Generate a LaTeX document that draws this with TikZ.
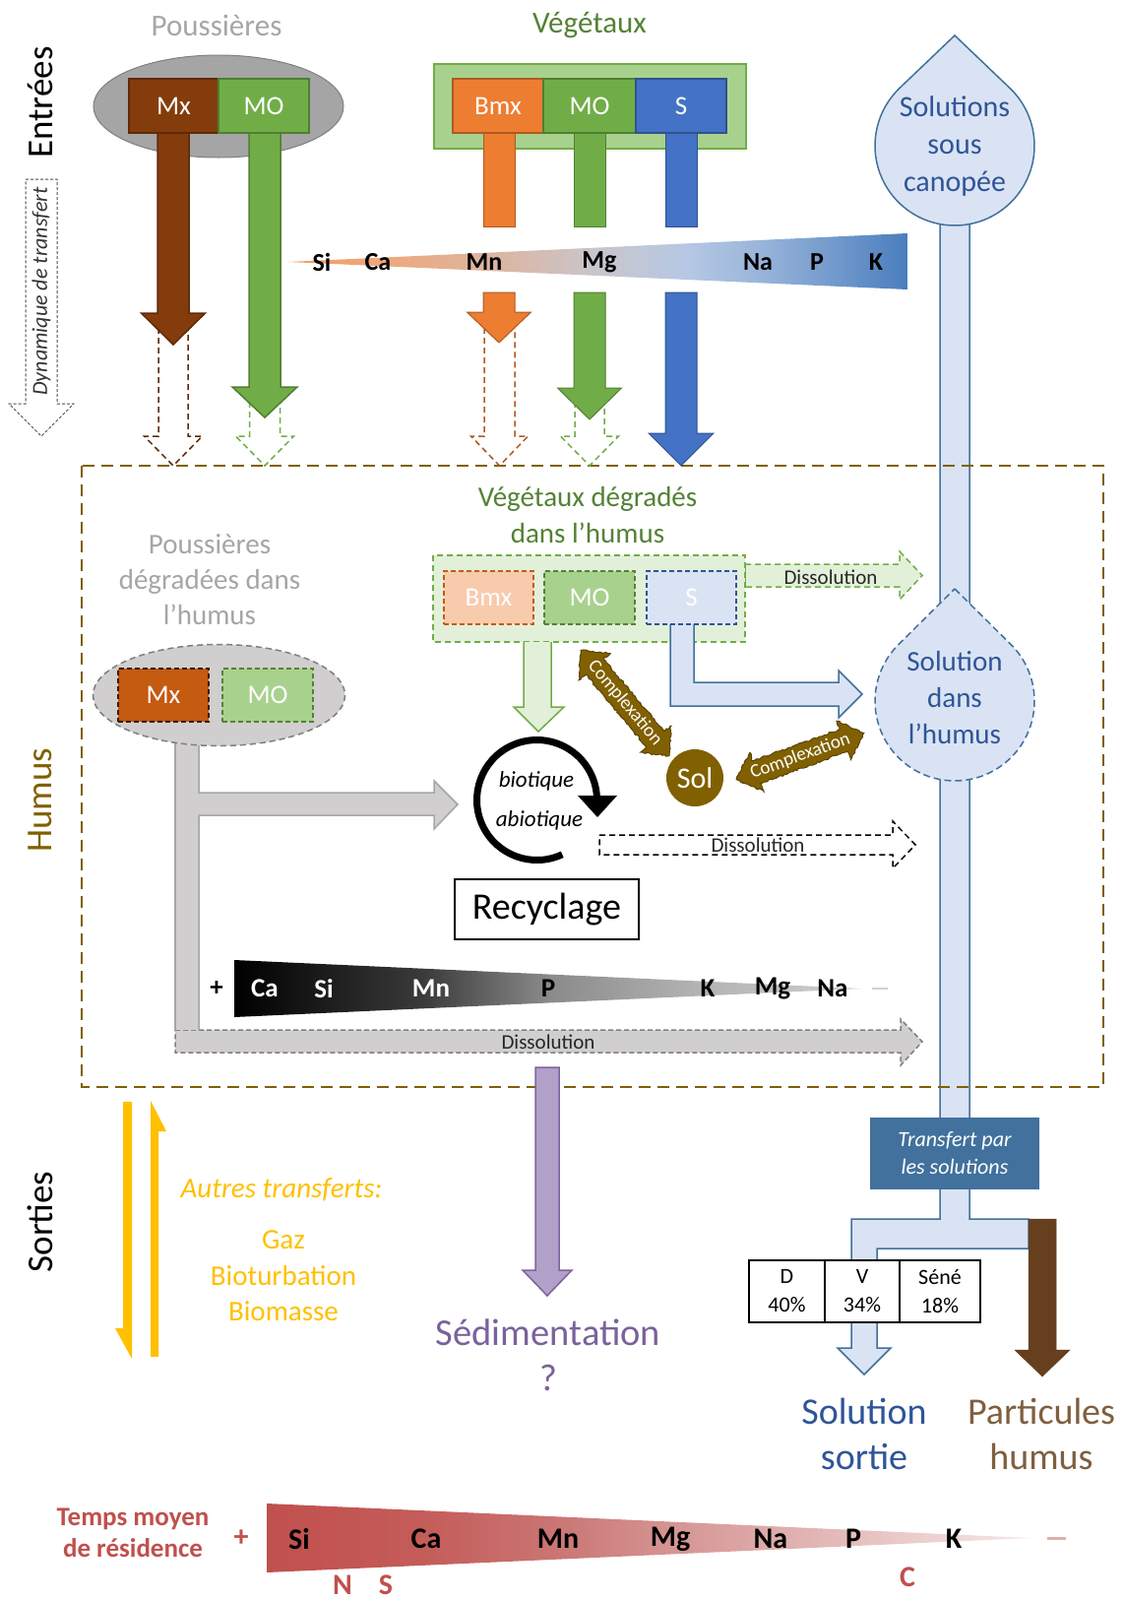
\documentclass[tikz,border=0pt]{standalone}
\usepackage{fontspec}
\setmainfont{Carlito}
\usetikzlibrary{calc,decorations.pathmorphing}
\definecolor{dustgray}{HTML}{A5A5A5}
\definecolor{dustedge}{HTML}{7F7F7F}
\definecolor{dusttext}{HTML}{A6A6A6}
\definecolor{mxbrown}{HTML}{843C0C}
\definecolor{mxedge}{HTML}{5E2A08}
\definecolor{mogreen}{HTML}{70AD47}
\definecolor{moedge}{HTML}{507E32}
\definecolor{vegtext}{HTML}{548235}
\definecolor{veglight}{HTML}{A9D18E}
\definecolor{bmxorange}{HTML}{ED7D31}
\definecolor{bmxedge}{HTML}{AE5A21}
\definecolor{sblue}{HTML}{4472C4}
\definecolor{sedge}{HTML}{2F528F}
\definecolor{dropfill}{HTML}{DAE3F3}
\definecolor{dropedge}{HTML}{41719C}
\definecolor{droptext}{HTML}{2F5597}
\definecolor{humusbrown}{HTML}{806000}
\definecolor{lgray}{HTML}{D0CECE}
\definecolor{grayedge}{HTML}{A6A6A6}
\definecolor{mxhumus}{HTML}{C55A11}
\definecolor{mxhedge}{HTML}{3A1A05}
\definecolor{vegpale}{HTML}{E2F0D9}
\definecolor{bmxpale}{HTML}{F8CBAD}
\definecolor{purplefill}{HTML}{B1A0C7}
\definecolor{purpleedge}{HTML}{7E649E}
\definecolor{purpletext}{HTML}{7A629A}
\definecolor{yellowarr}{HTML}{FFC000}
\definecolor{partbrown}{HTML}{663F1F}
\definecolor{parttext}{HTML}{7F5F3F}
\definecolor{redres}{HTML}{C0504D}
\definecolor{disstext}{HTML}{262626}
\definecolor{tgA}{HTML}{F19C5E}
\definecolor{tgB}{HTML}{F0A77A}
\definecolor{tgC}{HTML}{DDB49E}
\definecolor{tgD}{HTML}{C9C6CC}
\definecolor{tgE}{HTML}{B6C8E4}
\definecolor{tgF}{HTML}{9AB5DA}
\definecolor{tgG}{HTML}{4A7EBE}
\definecolor{bgA}{HTML}{000000}
\definecolor{bgB}{HTML}{3A3A3A}
\definecolor{bgC}{HTML}{8A8A8A}
\definecolor{bgD}{HTML}{B3B3B3}
\definecolor{bgE}{HTML}{CFCFCF}
\definecolor{rgA}{HTML}{C0504D}
\definecolor{rgB}{HTML}{C45C59}
\definecolor{rgC}{HTML}{CA7674}
\definecolor{rgD}{HTML}{D49391}
\definecolor{rgE}{HTML}{DFAFAE}
\definecolor{rgF}{HTML}{F7E8E8}
\pgfdeclarehorizontalshading{topgrad}{100bp}{color(0bp)=(tgA); color(25bp)=(tgA); color(32bp)=(tgB); color(41bp)=(tgC); color(50bp)=(tgD); color(57bp)=(tgE); color(63bp)=(tgF); color(75bp)=(tgG); color(100bp)=(tgG)}
\pgfdeclarehorizontalshading{blackgrad}{100bp}{color(0bp)=(bgA); color(25bp)=(bgA); color(40bp)=(bgB); color(50bp)=(bgC); color(62bp)=(bgD); color(75bp)=(bgE); color(100bp)=(bgE)}
\pgfdeclarehorizontalshading{redgrad}{100bp}{color(0bp)=(rgA); color(25bp)=(rgA); color(35bp)=(rgB); color(44bp)=(rgC); color(51bp)=(rgD); color(59bp)=(rgE); color(75bp)=(rgF); color(100bp)=(rgF)}
\newcommand\fsz[2]{\fontsize{#1pt}{#2pt}\selectfont}
\newcommand\fatdown[7]{\draw[#1] ({#2-#3},#5) -- ({#2-#3},#6) -- ({#2-#4},#6) -- (#2,#7) -- ({#2+#4},#6) -- ({#2+#3},#6) -- ({#2+#3},#5) -- cycle;}
\newcommand\opendown[7]{\draw[#1] ({#2-#3},#5) -- ({#2-#3},#6) -- ({#2-#4},#6) -- (#2,#7) -- ({#2+#4},#6) -- ({#2+#3},#6) -- ({#2+#3},#5);}
\begin{document}
\begin{tikzpicture}[x=1pt,y=-1pt,
  txt/.style={inner sep=0pt, align=center},
  boxlab/.style={inner sep=0pt, text=white, font=\fsz{27}{32}, minimum height=55pt},
  lab/.style={inner sep=0pt, font=\fsz{26}{30}\bfseries},
  blab/.style={inner sep=0pt, font=\fsz{27}{31}\bfseries},
  redlab/.style={inner sep=0pt, font=\fsz{30}{35}\bfseries},
  diss/.style={inner sep=0pt, text=disstext, font=\fsz{21}{25}},
  pipestyle/.style={fill=dropfill, draw=dropedge, line width=1.5pt},
  cplx/.style={fill=humusbrown, draw=humusbrown!70!black, line width=1pt, decorate, decoration={random steps, segment length=2.5pt, amplitude=1pt}},
  cplxtext/.style={inner sep=0pt, text=white, font=\fsz{19}{22}}]
\useasboundingbox (0,0) rectangle (1142,1625);
\fill[white] (0,0) rectangle (1142,1625);

% ---------- main solution pipe ----------
\draw[pipestyle] (955,225) -- (955,1238) -- (865,1238) -- (865,1369) -- (851,1369) -- (878,1396) -- (905,1369) -- (891,1369) -- (891,1268) -- (1045,1268) -- (1045,1238) -- (985,1238) -- (985,225) -- cycle;
% drop 1
\draw[pipestyle] (970,36) -- ($(970,148)+(-46.33:81)$) arc[start angle=-46.33, end angle=226.33, radius=81] -- cycle;
\node[txt, text=droptext, font=\fsz{30}{38}] (drop1) at (970,148) {Solutions\\sous\\canopée};
% drop 2
\draw[pipestyle, dashed, dash pattern=on 7pt off 4pt] (970,598) -- ($(970,712)+(-45.27:81)$) arc[start angle=-45.27, end angle=225.27, radius=81] -- cycle;
\node[txt, text=droptext, font=\fsz{29}{37}] (drop2) at (970,709) {Solution\\dans\\l’humus};

% ---------- humus frame ----------
\draw[humusbrown, line width=2pt, dash pattern=on 12pt off 7pt] (83,473) rectangle (1121,1104);

% ---------- side titles ----------
\node[txt, rotate=90, font=\fsz{37}{40}] (tEntrees) at (41,104) {Entrées};
\node[txt, rotate=90, font=\fsz{37}{40}, text=humusbrown] (tHumus) at (41,813) {Humus};
\node[txt, rotate=90, font=\fsz{37}{40}] (tSorties) at (41,1241) {Sorties};
\draw[black!70, line width=1pt, dash pattern=on 3pt off 2pt] (26,182) -- (58,182) -- (58,410) -- (75,410) -- (42,443) -- (9,410) -- (26,410) -- cycle;
\node[txt, rotate=90, font=\fsz{22}{25}\itshape, text=black!80] (tDyn) at (42,296) {Dynamique de transfert};

% ---------- entries: dust ----------
\node[txt, text=dusttext, font=\fsz{31}{37}] (tPous) at (220,26) {Poussières};
\draw[fill=dustgray, draw=dustedge, line width=1pt] (222,108) ellipse [x radius=127, y radius=52];
\opendown{mxedge, line width=1.5pt, dash pattern=on 6pt off 4pt}{176}{15}{29.5}{333}{443}{473}
\opendown{mogreen, line width=1.5pt, dash pattern=on 6pt off 4pt}{269}{15.5}{29.5}{408}{443}{473}
\fatdown{fill=mxbrown, draw=mxedge, line width=1.5pt}{176}{16}{32.5}{110}{318}{350}
\fatdown{fill=mogreen, draw=moedge, line width=1.5pt}{269}{16}{33}{110}{393}{424}
\node[boxlab, fill=mxbrown, draw=mxedge, line width=1.5pt, minimum width=91pt] (dMx) at (176.5,107.5) {Mx};
\node[boxlab, fill=mogreen, draw=moedge, line width=1.5pt, minimum width=92pt] (dMO) at (268,107.5) {MO};

% ---------- entries: vegetation ----------
\node[txt, text=vegtext, font=\fsz{31}{37}] (tVeg) at (599,26) {Végétaux};
\draw[fill=veglight, draw=mogreen, line width=1.5pt] (441,65) rectangle (758,151);
\draw[fill=bmxorange, draw=bmxedge, line width=1pt] (491,110) rectangle (523,230);
\draw[fill=mogreen, draw=moedge, line width=1pt] (583,110) rectangle (615,230);
\draw[fill=sblue, draw=sedge, line width=1pt] (676,110) rectangle (708,230);
\opendown{bmxedge, line width=1.5pt, dash pattern=on 6pt off 4pt}{507.5}{15.5}{29}{333}{443}{473}
\opendown{mogreen, line width=1.5pt, dash pattern=on 6pt off 4pt}{599}{15}{29.5}{408}{443}{473}
\fatdown{fill=bmxorange, draw=bmxedge, line width=1pt}{507}{16}{32.5}{297}{317}{348}
\fatdown{fill=mogreen, draw=moedge, line width=1pt}{599}{16}{32.5}{297}{394}{426}
\fatdown{fill=sblue, draw=sedge, line width=1pt}{692}{16}{33}{297}{440}{473}
\node[boxlab, fill=bmxorange, draw=bmxedge, line width=1.5pt, minimum width=92pt] (vBmx) at (506,107.5) {Bmx};
\node[boxlab, fill=mogreen, draw=moedge, line width=1.5pt, minimum width=94pt] (vMO) at (599,107.5) {MO};
\node[boxlab, fill=sblue, draw=sedge, line width=1.5pt, minimum width=92pt] (vS) at (692,107.5) {S};

% top gradient bar
\shade[shading=topgrad] (293,266) -- (922,237) -- (922,294) -- cycle;
\node[lab] (tSi) at (327,266) {Si};
\node[lab] (tCa) at (384,266) {Ca};
\node[lab] (tMn) at (492,266) {Mn};
\node[lab] (tMg) at (609,266) {Mg};
\node[lab] (tNa) at (770,266) {Na};
\node[lab] (tP) at (830,266) {P};
\node[lab] (tK) at (890,266) {K};

% ---------- humus: dust ----------
\node[txt, text=dusttext, font=\fsz{29}{36}] (hPous) at (213,589) {Poussières\\dégradées dans\\l’humus};
% gray dissolution arrow (bottom)
\draw[fill=lgray, draw=dustedge, line width=1.5pt, dash pattern=on 5pt off 3pt] (178,1046) -- (915,1046) -- (915,1035) -- (937,1058) -- (915,1082) -- (915,1069) -- (178,1069) -- cycle;
\node[diss] (dissB) at (557,1058) {Dissolution};
% gray L arrow
\fill[lgray] (178,740) -- (202,740) -- (202,805) -- (441,805) -- (441,793) -- (465,817) -- (441,842) -- (441,828) -- (202,828) -- (202,1046) -- (178,1046) -- cycle;
\draw[grayedge, line width=1.5pt] (202,740) -- (202,805) -- (441,805) -- (441,793) -- (465,817) -- (441,842) -- (441,828) -- (202,828) -- (202,1046);
\draw[grayedge, line width=1.5pt] (178,740) -- (178,1046);
\draw[fill=lgray, draw=dustedge, line width=1.5pt, dash pattern=on 6pt off 4pt] (222.5,706) ellipse [x radius=128, y radius=51.5];
\node[boxlab, fill=mxhumus, draw=mxhedge, line width=1.5pt, dash pattern=on 5pt off 3pt, minimum width=92pt, minimum height=54pt] (hMx) at (166,706) {Mx};
\node[boxlab, fill=veglight, draw=vegtext, line width=1.5pt, dash pattern=on 5pt off 3pt, minimum width=92pt, minimum height=54pt] (hMO) at (272,706) {MO};

% black gradient bar
\shade[shading=blackgrad] (238,975) -- (876,1004) -- (238,1033) -- cycle;
\draw[bgE, line width=2.5pt] (886,1004) -- (902,1004);
\node[blab] (bPlus) at (220,1004) {+};
\node[blab, text=white] (bCa) at (269,1004) {Ca};
\node[blab, text=white] (bSi) at (329,1004) {Si};
\node[blab, text=white] (bMn) at (438,1004) {Mn};
\node[blab] (bP) at (557,1004) {P};
\node[blab] (bK) at (719,1004) {K};
\node[blab] (bMg) at (785,1004) {Mg};
\node[blab] (bNa) at (846,1004) {Na};

% ---------- humus: vegetation ----------
\node[txt, text=vegtext, font=\fsz{29}{37}] (hVeg) at (597,523) {Végétaux dégradés\\dans l’humus};
\draw[fill=vegpale, draw=mogreen, line width=1.5pt, dash pattern=on 6pt off 4pt] (757,573) -- (914,573) -- (914,560) -- (937,584.5) -- (914,609) -- (914,596) -- (757,596) -- cycle;
\node[diss] (dissT) at (844,586) {Dissolution};
\draw[fill=vegpale, draw=mogreen, line width=1.5pt, dash pattern=on 6pt off 4pt] (440,564) rectangle (757,652);
% S arrow to solution
\fill[dropfill] (681,625) -- (681,717) -- (852,717) -- (852,729) -- (876,705) -- (852,681) -- (852,693) -- (705,693) -- (705,625) -- cycle;
\draw[dropedge, line width=1.5pt] (681,634) -- (681,717) -- (852,717) -- (852,729) -- (876,705) -- (852,681) -- (852,693) -- (705,693) -- (705,634);
% green arrow to cycle
\fill[vegpale] (532,652) -- (532,718) -- (522,718) -- (547,743) -- (573,718) -- (560,718) -- (560,652) -- cycle;
\draw[mogreen, line width=1.5pt] (532,652) -- (532,718) -- (522,718) -- (547,743) -- (573,718) -- (560,718) -- (560,652);
\node[boxlab, fill=bmxpale, draw=mxhumus, line width=1.5pt, dash pattern=on 5pt off 3pt, minimum width=91pt, minimum height=54pt] (hBmx) at (496.5,607) {Bmx};
\node[boxlab, fill=veglight, draw=vegtext, line width=1.5pt, dash pattern=on 5pt off 3pt, minimum width=92pt, minimum height=54pt] (hVMO) at (599,607) {MO};
\node[boxlab, fill=dropfill, draw=droptext, line width=1.5pt, dash pattern=on 5pt off 3pt, minimum width=91pt, minimum height=54pt] (hS) at (702.5,607) {S};

% cycle
\draw[line width=7pt] ($(545.5,812.5)+(65:61)$) arc[start angle=65, end angle=358, radius=61];
\fill (587,808) -- (627,808) -- (607,830) -- cycle;
\node[txt, font=\fsz{23}{27}\itshape] (bio) at (545,793) {biotique};
\node[txt, font=\fsz{23}{27}\itshape] (abio) at (548,833) {abiotique};
\node[draw=black, line width=1.5pt, fill=white, minimum width=187pt, minimum height=61pt, inner sep=0pt, font=\fsz{38}{44}] (recy) at (555.5,923.5) {Recyclage};

% white dissolution arrow
\draw[fill=white, draw=black, line width=1.5pt, dash pattern=on 6pt off 4pt] (609,848) -- (907,848) -- (907,834) -- (930,858) -- (907,882) -- (907,868) -- (609,868) -- cycle;
\node[diss] (dissM) at (770,858) {Dissolution};

% complexation arrows and soil
\begin{scope}[shift={(635,714)}, rotate=-50]
\path[cplx] (-70,0) -- (-48,-21) -- (-48,-12) -- (48,-12) -- (48,-21) -- (70,0) -- (48,21) -- (48,12) -- (-48,12) -- (-48,21) -- cycle;
\end{scope}
\node[cplxtext, rotate=-50] (cx1) at (635,714) {Complexation};
\begin{scope}[shift={(813,768)}, rotate=20]
\path[cplx] (-69,0) -- (-47,-21) -- (-47,-12) -- (47,-12) -- (47,-21) -- (69,0) -- (47,21) -- (47,12) -- (-47,12) -- (-47,21) -- cycle;
\end{scope}
\node[cplxtext, rotate=20] (cx2) at (813,768) {Complexation};
\node[circle, fill=humusbrown, minimum size=58pt, inner sep=0pt, text=white, font=\fsz{30}{36}] (sol) at (706,790) {Sol};

% ---------- outputs ----------
\fill[yellowarr] (125,1119) -- (134,1119) -- (134,1380) -- (117,1349) -- (125,1349) -- cycle;
\fill[yellowarr] (153,1378) -- (153,1118) -- (169,1149) -- (161,1149) -- (161,1378) -- cycle;
\node[txt, text=yellowarr, font=\fsz{29}{36}\itshape] (autres) at (286,1208) {Autres transferts:};
\node[txt, text=yellowarr, font=\fsz{29}{36.5}] (gaz) at (288,1296) {Gaz\\Bioturbation\\Biomasse};

\fatdown{fill=purplefill, draw=purpleedge, line width=1.5pt}{556}{12}{25}{1084}{1290}{1316}
\node[txt, text=purpletext, font=\fsz{38.5}{46}] (sedi) at (557,1376) {Sédimentation\\?};

\node[fill=dropedge, minimum width=172pt, minimum height=73pt, inner sep=0pt, text=white, font=\fsz{22}{28}\itshape, align=center] (transf) at (970,1171.5) {Transfert par\\les solutions};

\fatdown{fill=partbrown, draw=partbrown, line width=0.5pt}{1059}{14}{28}{1238}{1371}{1398}

\draw[fill=white, draw=black, line width=1.5pt] (761,1280) rectangle (996,1343);
\draw[black, line width=1.5pt] (838,1280) -- (838,1343) (914,1280) -- (914,1343);
\node[txt, font=\fsz{22}{29}] (tabD) at (799.5,1311.5) {D\\40\%};
\node[txt, font=\fsz{22}{29}] (tabV) at (876,1311.5) {V\\34\%};
\node[txt, font=\fsz{22}{29}] (tabS) at (955,1311.5) {Séné\\18\%};

\node[txt, text=droptext, font=\fsz{38}{46}] (solsort) at (878,1456) {Solution\\sortie};
\node[txt, text=parttext, font=\fsz{38}{46}] (parthum) at (1058,1456) {Particules\\humus};

% ---------- residence time ----------
\node[txt, text=redres, font=\fsz{27}{32}\bfseries] (temps) at (135,1557) {Temps moyen\\de résidence};
\node[redlab, text=redres] (rPlus) at (245,1562) {+};
\shade[shading=redgrad] (271,1527) -- (1047,1562) -- (271,1597) -- cycle;
\draw[rgE, line width=3pt] (1064,1562) -- (1083,1562);
\node[redlab] (rSi) at (304,1563) {Si};
\node[redlab] (rCa) at (433,1563) {Ca};
\node[redlab] (rMn) at (567,1563) {Mn};
\node[redlab] (rMg) at (681,1563) {Mg};
\node[redlab] (rNa) at (783,1563) {Na};
\node[redlab] (rP) at (867,1563) {P};
\node[redlab] (rK) at (969,1563) {K};
\node[redlab, text=redres] (rN) at (348,1610) {N};
\node[redlab, text=redres] (rS) at (392,1610) {S};
\node[redlab, text=redres] (rC) at (922,1602) {C};
\end{tikzpicture}
\end{document}
